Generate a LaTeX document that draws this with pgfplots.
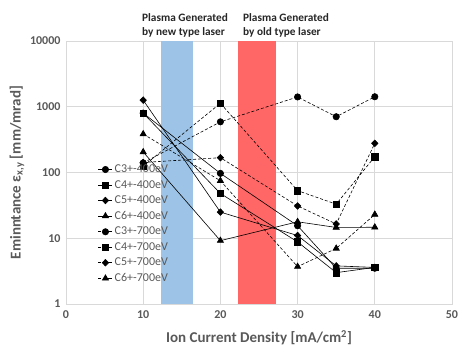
\documentclass[border=0pt]{standalone}
\usepackage{pgfplots}
\pgfplotsset{compat=1.18}
\usepackage{fontspec}
\setmainfont{Carlito}
\definecolor{txtgray}{HTML}{595959}
\definecolor{gridgray}{HTML}{D9D9D9}
\definecolor{bandblue}{HTML}{9DC3E6}
\definecolor{bandred}{HTML}{FF6666}
\begin{document}
\begin{tikzpicture}
\path[use as bounding box] (-66pt,-45pt) rectangle (392pt,304pt);
\begin{axis}[
  scale only axis, width=386pt, height=263pt,
  ymode=log, xmin=0, xmax=50, ymin=1, ymax=10000,
  xtick={0,10,20,30,40,50},
  ytick={1,10,100,1000,10000},
  yticklabels={1,10,100,1000,10000},
  minor ytick={}, 
  log basis y=10,
  grid=major, major grid style={gridgray, line width=0.8pt},
  axis line style={gridgray, line width=0.8pt},
  tick style={draw=none},
  ticklabel style={font=\fontsize{12}{14}\selectfont\bfseries, text=txtgray},
  xticklabel style={yshift=-3pt},
  yticklabel style={xshift=-2pt},
  /pgf/number format/assume math mode=true,
  xlabel={Ion Current Density [mA/cm\textsuperscript{2}]},
  ylabel={Eminntance ε\textsubscript{x,y} [mm/mrad]},
  label style={font=\fontsize{15}{17}\selectfont\bfseries, text=txtgray},
  xlabel style={at={(axis description cs:0.5,-0.129)}, anchor=center},
  ylabel style={at={(axis description cs:-0.127,0.5)}, anchor=center},
  legend style={at={(rel axis cs:0.075,0.545)}, anchor=north west, draw=none, fill=none,
    font=\fontsize{12}{14}\selectfont, text=txtgray, row sep=2.2pt,
    /tikz/every even column/.append style={column sep=1pt}},
  legend cell align=left,
  legend image code/.code={
    \draw[#1] (0pt,0pt) -- (7pt,0pt);
    \draw[#1] (7pt,0pt) -- (14pt,0pt);
    \draw[#1, mark repeat=2, mark phase=2] plot coordinates {(0pt,0pt) (7pt,0pt) (14pt,0pt)};
  },
  clip=false,
]
\addplot[draw=none, fill=bandblue, forget plot] coordinates {(12.3,1) (16.5,1) (16.5,10000) (12.3,10000)} -- cycle;
\addplot[draw=none, fill=bandred, forget plot] coordinates {(22.3,1) (27.2,1) (27.2,10000) (22.3,10000)} -- cycle;

\pgfplotsset{
  sol/.style={black, line width=0.6pt, solid},
  das/.style={black, line width=0.6pt, dash pattern=on 3pt off 2pt},
}
\addplot[sol, mark=*, mark size=3.2pt, mark options={solid}] coordinates {(10,800) (20,97) (30,15.5) (35,3.5) (40,3.5)};
\addlegendentry{C3+-400eV}
\addplot[sol, mark=square*, mark size=3.2pt, mark options={solid}] coordinates {(10,800) (20,48) (30,8.8) (35,3.0) (40,3.6)};
\addlegendentry{C4+-400eV}
\addplot[sol, mark=diamond*, mark size=3.3pt, mark options={solid, xscale=1.3}] coordinates {(10,1260) (20,25) (30,11) (35,3.8) (40,3.6)};
\addlegendentry{C5+-400eV}
\addplot[sol, mark=triangle*, mark size=3.6pt, mark options={solid}] coordinates {(10,205) (20,9.2) (30,17.8) (35,14.6) (40,14.7)};
\addlegendentry{C6+-400eV}
\addplot[das, mark=*, mark size=3.2pt, mark options={solid}] coordinates {(10,140) (20,590) (30,1410) (35,705) (40,1420)};
\addlegendentry{C3+-700eV}
\addplot[das, mark=square*, mark size=3.2pt, mark options={solid}] coordinates {(10,125) (20,1130) (30,53) (35,33) (40,174)};
\addlegendentry{C4+-700eV}
\addplot[das, mark=diamond*, mark size=3.3pt, mark options={solid, xscale=1.3}] coordinates {(10,142) (20,168) (30,31) (35,16.5) (40,278)};
\addlegendentry{C5+-700eV}
\addplot[das, mark=triangle*, mark size=3.6pt, mark options={solid}] coordinates {(10,385) (20,75) (30,3.7) (35,7.0) (40,23)};
\addlegendentry{C6+-700eV}
\end{axis}
\node[anchor=north west, inner sep=0pt, align=left, font=\fontsize{11.3}{14.3}\selectfont\bfseries, text=black!85] at (76pt,291pt) {Plasma Generated\\by new type laser};
\node[anchor=north west, inner sep=0pt, align=left, font=\fontsize{11.3}{14.3}\selectfont\bfseries, text=black!85] at (177pt,291pt) {Plasma Generated\\by old type laser};
\end{tikzpicture}
\end{document}
